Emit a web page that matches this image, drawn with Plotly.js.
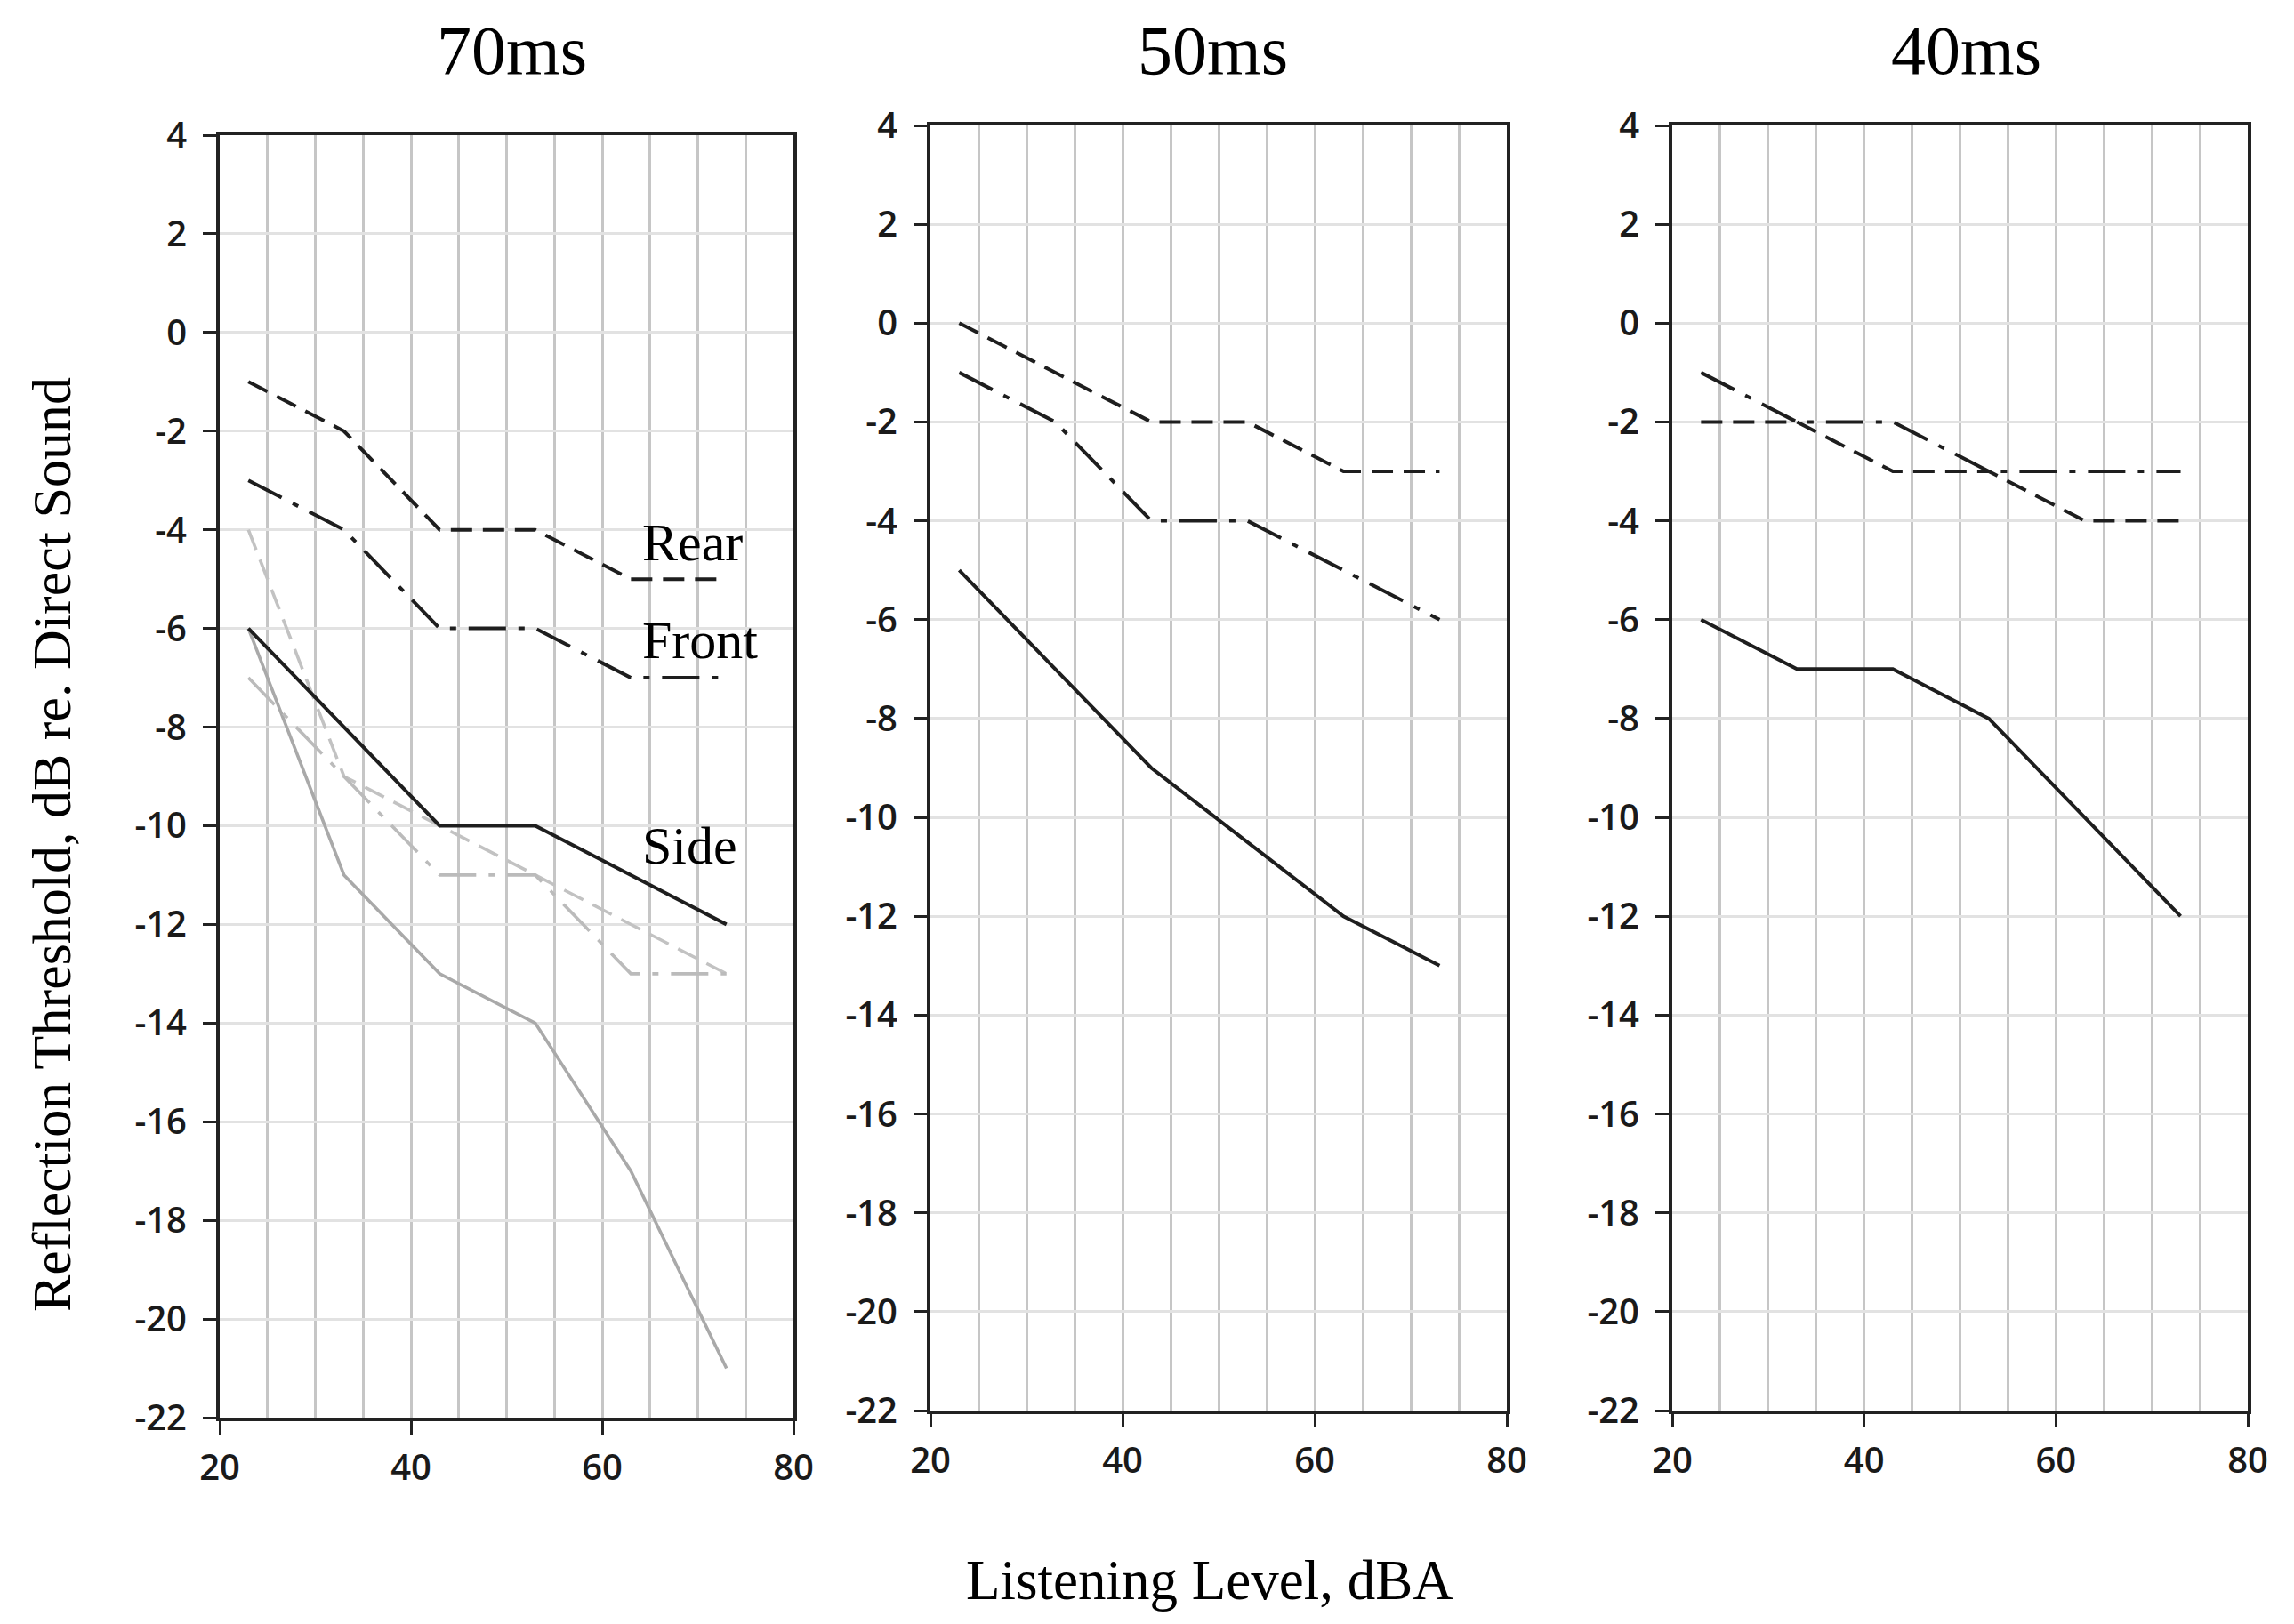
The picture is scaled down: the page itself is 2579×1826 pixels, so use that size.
<!DOCTYPE html>
<html>
<head>
<meta charset="utf-8">
<script src="https://cdn.plot.ly/plotly-3.0.1.min.js"></script>
<style>
  html, body { margin: 0; padding: 0; background: #fff; }
  #chart { width: 2579px; height: 1826px; }
</style>
</head>
<body>
<div id="chart"></div>
<script>
// listening levels (dBA) where thresholds were measured
var levels = [23, 33, 43, 53, 63, 73];

// 70ms panel, black series
var rear70 = [-1, -2, -4, -4, -5, -5];
var front70 = [-3, -4, -6, -6, -7, -7];
var side70 = [-6, -8, -10, -10, -11, -12];
// 70ms panel, light grey series
var rear70g = [-4, -9, -10, -11, -12, -13];
var front70g = [-7, -9, -11, -11, -13, -13];
var side70g = [-6, -11, -13, -14, -17, -21];

// 50ms panel
var rear50 = [0, -1, -2, -2, -3, -3];
var front50 = [-1, -2, -4, -4, -5, -6];
var side50 = [-5, -7, -9, -10.5, -12, -13];

// 40ms panel
var rear40 = [-2, -2, -3, -3, -4, -4];
var front40 = [-1, -2, -2, -3, -3, -3];
var side40 = [-6, -7, -7, -8, -10, -12];

var panelTitles = ['70ms', '50ms', '40ms'];
var yTicks = [4, 2, 0, -2, -4, -6, -8, -10, -12, -14, -16, -18, -20, -22];
// plain hyphens like the original, not the typographic minus
var yTickText = ['4', '2', '0', '-2', '-4', '-6', '-8', '-10', '-12', '-14', '-16', '-18', '-20', '-22'];
var xTicks = [20, 40, 60, 80];

var rearDash = '24px,12px';
var frontDash = '42px,14px,7px,14px';

function line(x, y, axis, color, dash, width) {
  return {
    x: x, y: y,
    xaxis: 'x' + axis, yaxis: 'y' + axis,
    mode: 'lines', type: 'scatter',
    line: { color: color, dash: dash, width: width },
    hoverinfo: 'skip',
    showlegend: false
  };
}

var black = '#1e1e1e';
var data = [
  // grey ones first so the black sit on top
  line(levels, side70g, '', '#a9a9a9', 'solid', 3.6),
  line(levels, rear70g, '', '#c2c2c2', rearDash, 3.6),
  line(levels, front70g, '', '#bbbbbb', frontDash, 3.6),
  line(levels, rear70, '', black, rearDash, 4),
  line(levels, front70, '', black, frontDash, 4),
  line(levels, side70, '', black, 'solid', 4),

  line(levels, rear50, '2', black, rearDash, 4),
  line(levels, front50, '2', black, frontDash, 4),
  line(levels, side50, '2', black, 'solid', 4),

  line(levels, rear40, '3', black, rearDash, 4),
  line(levels, front40, '3', black, frontDash, 4),
  line(levels, side40, '3', black, 'solid', 4)
];

var tickFont = { family: 'Open Sans, Liberation Sans, sans-serif', size: 40, color: '#1a1a1a', weight: 600 };
var serif = 'Liberation Serif, Times New Roman, serif';

function xAxis(domain, anchor) {
  return {
    domain: domain, anchor: anchor,
    range: [20, 80], tickvals: xTicks,
    ticks: 'outside', ticklen: 15, tickwidth: 3, tickcolor: '#222',
    ticklabelstandoff: 3,
    showline: true, linecolor: '#222', linewidth: 4, mirror: true,
    showgrid: true, gridcolor: '#c6c6c6', gridwidth: 3,
    minor: { dtick: 5, tick0: 20, showgrid: true, gridcolor: '#c6c6c6', gridwidth: 3, ticks: '' },
    zeroline: false, tickfont: tickFont, fixedrange: true
  };
}

function yAxis(domain, anchor) {
  return {
    domain: domain, anchor: anchor,
    range: [-22, 4], tickvals: yTicks, ticktext: yTickText,
    ticks: 'outside', ticklen: 15, tickwidth: 3, tickcolor: '#222',
    ticklabelstandoff: 10,
    showline: true, linecolor: '#222', linewidth: 4, mirror: true,
    showgrid: true, gridcolor: '#e2e2e2', gridwidth: 3,
    zeroline: false, tickfont: tickFont, fixedrange: true
  };
}

var annotations = [];
var titleX = [575, 1363, 2210];
for (var i = 0; i < panelTitles.length; i++) {
  annotations.push({
    text: panelTitles[i], xref: 'paper', yref: 'paper',
    x: titleX[i] / 2579, y: 1 - 57 / 1826, xanchor: 'center', yanchor: 'middle',
    showarrow: false, font: { family: serif, size: 78, color: '#000' }
  });
}

// series labels inside the 70ms panel
var labelNames = ['Rear', 'Front', 'Side'];
var labelX = [69.4, 70.2, 69.2];
var labelY = [-4.25, -6.25, -10.4];
for (var j = 0; j < labelNames.length; j++) {
  annotations.push({
    text: labelNames[j], xref: 'x', yref: 'y',
    x: labelX[j], y: labelY[j], xanchor: 'center', yanchor: 'middle',
    showarrow: false, font: { family: serif, size: 60, color: '#000' }
  });
}

annotations.push({
  text: 'Reflection Threshold, dB re. Direct Sound', xref: 'paper', yref: 'paper',
  x: 58 / 2579, y: 1 - 950 / 1826, textangle: -90,
  xanchor: 'center', yanchor: 'middle', showarrow: false,
  font: { family: serif, size: 62, color: '#000' }
});
annotations.push({
  text: 'Listening Level, dBA', xref: 'paper', yref: 'paper',
  x: 1360 / 2579, y: 1 - 1777 / 1826,
  xanchor: 'center', yanchor: 'middle', showarrow: false,
  font: { family: serif, size: 63, color: '#000' }
});

var layout = {
  width: 2579, height: 1826,
  margin: { l: 0, r: 0, t: 0, b: 0 },
  paper_bgcolor: '#fff', plot_bgcolor: '#fff',
  showlegend: false,
  xaxis: xAxis([247 / 2579, 892 / 2579], 'y'),
  yaxis: yAxis([1 - 1594 / 1826, 1 - 152 / 1826], 'x'),
  xaxis2: xAxis([1046 / 2579, 1694 / 2579], 'y2'),
  yaxis2: yAxis([1 - 1586 / 1826, 1 - 141 / 1826], 'x2'),
  xaxis3: xAxis([1880 / 2579, 2527 / 2579], 'y3'),
  yaxis3: yAxis([1 - 1586 / 1826, 1 - 141 / 1826], 'x3'),
  annotations: annotations
};

Plotly.newPlot('chart', data, layout, { staticPlot: true });
</script>
</body>
</html>
